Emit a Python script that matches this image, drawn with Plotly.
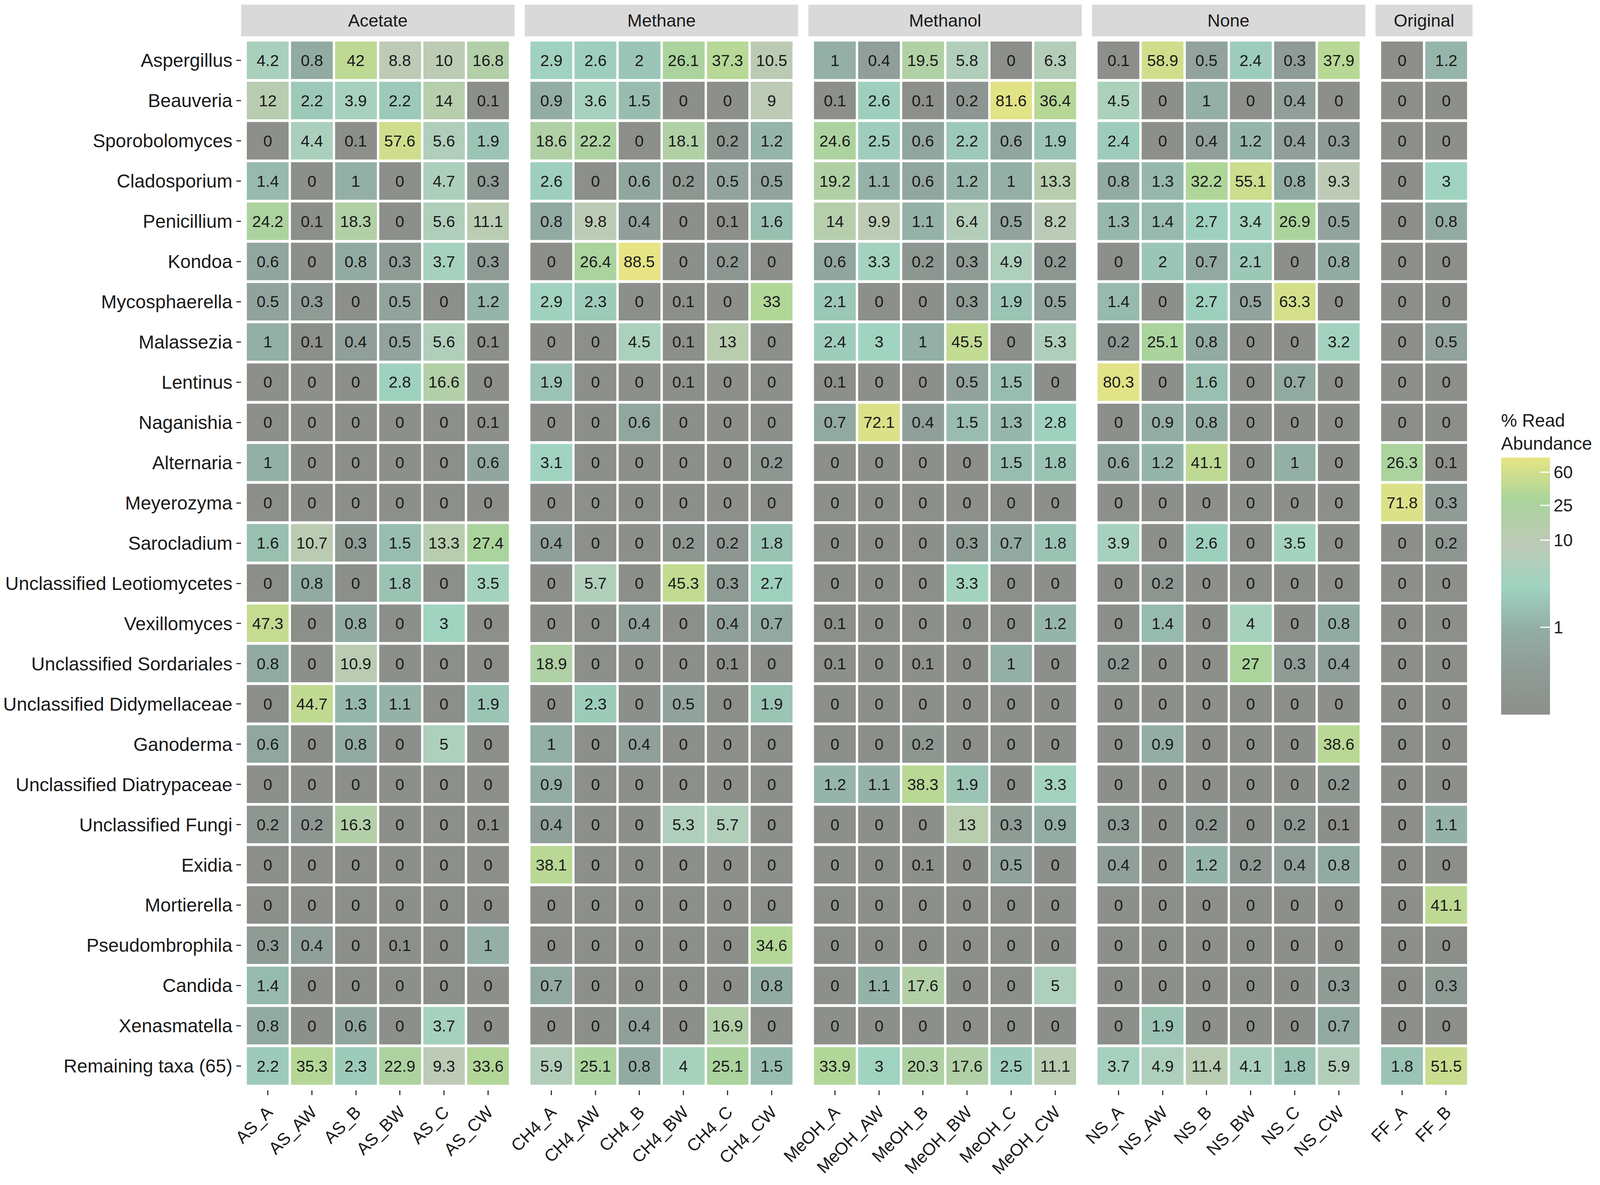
import math
import plotly.graph_objects as go

# ---------------- data ----------------
taxa = [
    "Aspergillus", "Beauveria", "Sporobolomyces", "Cladosporium", "Penicillium",
    "Kondoa", "Mycosphaerella", "Malassezia", "Lentinus", "Naganishia",
    "Alternaria", "Meyerozyma", "Sarocladium", "Unclassified Leotiomycetes",
    "Vexillomyces", "Unclassified Sordariales", "Unclassified Didymellaceae",
    "Ganoderma", "Unclassified Diatrypaceae", "Unclassified Fungi", "Exidia",
    "Mortierella", "Pseudombrophila", "Candida", "Xenasmatella",
    "Remaining taxa (65)",
]

groups = ["Acetate", "Methane", "Methanol", "None", "Original"]

acetate_samples = ["AS_A", "AS_AW", "AS_B", "AS_BW", "AS_C", "AS_CW"]
methane_samples = ["CH4_A", "CH4_AW", "CH4_B", "CH4_BW", "CH4_C", "CH4_CW"]
methanol_samples = ["MeOH_A", "MeOH_AW", "MeOH_B", "MeOH_BW", "MeOH_C", "MeOH_CW"]
none_samples = ["NS_A", "NS_AW", "NS_B", "NS_BW", "NS_C", "NS_CW"]
original_samples = ["FF_A", "FF_B"]

acetate = [
    [4.2, 0.8, 42, 8.8, 10, 16.8],
    [12, 2.2, 3.9, 2.2, 14, 0.1],
    [0, 4.4, 0.1, 57.6, 5.6, 1.9],
    [1.4, 0, 1, 0, 4.7, 0.3],
    [24.2, 0.1, 18.3, 0, 5.6, 11.1],
    [0.6, 0, 0.8, 0.3, 3.7, 0.3],
    [0.5, 0.3, 0, 0.5, 0, 1.2],
    [1, 0.1, 0.4, 0.5, 5.6, 0.1],
    [0, 0, 0, 2.8, 16.6, 0],
    [0, 0, 0, 0, 0, 0.1],
    [1, 0, 0, 0, 0, 0.6],
    [0, 0, 0, 0, 0, 0],
    [1.6, 10.7, 0.3, 1.5, 13.3, 27.4],
    [0, 0.8, 0, 1.8, 0, 3.5],
    [47.3, 0, 0.8, 0, 3, 0],
    [0.8, 0, 10.9, 0, 0, 0],
    [0, 44.7, 1.3, 1.1, 0, 1.9],
    [0.6, 0, 0.8, 0, 5, 0],
    [0, 0, 0, 0, 0, 0],
    [0.2, 0.2, 16.3, 0, 0, 0.1],
    [0, 0, 0, 0, 0, 0],
    [0, 0, 0, 0, 0, 0],
    [0.3, 0.4, 0, 0.1, 0, 1],
    [1.4, 0, 0, 0, 0, 0],
    [0.8, 0, 0.6, 0, 3.7, 0],
    [2.2, 35.3, 2.3, 22.9, 9.3, 33.6],
]

methane = [
    [2.9, 2.6, 2, 26.1, 37.3, 10.5],
    [0.9, 3.6, 1.5, 0, 0, 9],
    [18.6, 22.2, 0, 18.1, 0.2, 1.2],
    [2.6, 0, 0.6, 0.2, 0.5, 0.5],
    [0.8, 9.8, 0.4, 0, 0.1, 1.6],
    [0, 26.4, 88.5, 0, 0.2, 0],
    [2.9, 2.3, 0, 0.1, 0, 33],
    [0, 0, 4.5, 0.1, 13, 0],
    [1.9, 0, 0, 0.1, 0, 0],
    [0, 0, 0.6, 0, 0, 0],
    [3.1, 0, 0, 0, 0, 0.2],
    [0, 0, 0, 0, 0, 0],
    [0.4, 0, 0, 0.2, 0.2, 1.8],
    [0, 5.7, 0, 45.3, 0.3, 2.7],
    [0, 0, 0.4, 0, 0.4, 0.7],
    [18.9, 0, 0, 0, 0.1, 0],
    [0, 2.3, 0, 0.5, 0, 1.9],
    [1, 0, 0.4, 0, 0, 0],
    [0.9, 0, 0, 0, 0, 0],
    [0.4, 0, 0, 5.3, 5.7, 0],
    [38.1, 0, 0, 0, 0, 0],
    [0, 0, 0, 0, 0, 0],
    [0, 0, 0, 0, 0, 34.6],
    [0.7, 0, 0, 0, 0, 0.8],
    [0, 0, 0.4, 0, 16.9, 0],
    [5.9, 25.1, 0.8, 4, 25.1, 1.5],
]

methanol = [
    [1, 0.4, 19.5, 5.8, 0, 6.3],
    [0.1, 2.6, 0.1, 0.2, 81.6, 36.4],
    [24.6, 2.5, 0.6, 2.2, 0.6, 1.9],
    [19.2, 1.1, 0.6, 1.2, 1, 13.3],
    [14, 9.9, 1.1, 6.4, 0.5, 8.2],
    [0.6, 3.3, 0.2, 0.3, 4.9, 0.2],
    [2.1, 0, 0, 0.3, 1.9, 0.5],
    [2.4, 3, 1, 45.5, 0, 5.3],
    [0.1, 0, 0, 0.5, 1.5, 0],
    [0.7, 72.1, 0.4, 1.5, 1.3, 2.8],
    [0, 0, 0, 0, 1.5, 1.8],
    [0, 0, 0, 0, 0, 0],
    [0, 0, 0, 0.3, 0.7, 1.8],
    [0, 0, 0, 3.3, 0, 0],
    [0.1, 0, 0, 0, 0, 1.2],
    [0.1, 0, 0.1, 0, 1, 0],
    [0, 0, 0, 0, 0, 0],
    [0, 0, 0.2, 0, 0, 0],
    [1.2, 1.1, 38.3, 1.9, 0, 3.3],
    [0, 0, 0, 13, 0.3, 0.9],
    [0, 0, 0.1, 0, 0.5, 0],
    [0, 0, 0, 0, 0, 0],
    [0, 0, 0, 0, 0, 0],
    [0, 1.1, 17.6, 0, 0, 5],
    [0, 0, 0, 0, 0, 0],
    [33.9, 3, 20.3, 17.6, 2.5, 11.1],
]

none_ = [
    [0.1, 58.9, 0.5, 2.4, 0.3, 37.9],
    [4.5, 0, 1, 0, 0.4, 0],
    [2.4, 0, 0.4, 1.2, 0.4, 0.3],
    [0.8, 1.3, 32.2, 55.1, 0.8, 9.3],
    [1.3, 1.4, 2.7, 3.4, 26.9, 0.5],
    [0, 2, 0.7, 2.1, 0, 0.8],
    [1.4, 0, 2.7, 0.5, 63.3, 0],
    [0.2, 25.1, 0.8, 0, 0, 3.2],
    [80.3, 0, 1.6, 0, 0.7, 0],
    [0, 0.9, 0.8, 0, 0, 0],
    [0.6, 1.2, 41.1, 0, 1, 0],
    [0, 0, 0, 0, 0, 0],
    [3.9, 0, 2.6, 0, 3.5, 0],
    [0, 0.2, 0, 0, 0, 0],
    [0, 1.4, 0, 4, 0, 0.8],
    [0.2, 0, 0, 27, 0.3, 0.4],
    [0, 0, 0, 0, 0, 0],
    [0, 0.9, 0, 0, 0, 38.6],
    [0, 0, 0, 0, 0, 0.2],
    [0.3, 0, 0.2, 0, 0.2, 0.1],
    [0.4, 0, 1.2, 0.2, 0.4, 0.8],
    [0, 0, 0, 0, 0, 0],
    [0, 0, 0, 0, 0, 0],
    [0, 0, 0, 0, 0, 0.3],
    [0, 1.9, 0, 0, 0, 0.7],
    [3.7, 4.9, 11.4, 4.1, 1.8, 5.9],
]

original = [
    [0, 1.2],
    [0, 0],
    [0, 0],
    [0, 3],
    [0, 0.8],
    [0, 0],
    [0, 0],
    [0, 0.5],
    [0, 0],
    [0, 0],
    [26.3, 0.1],
    [71.8, 0.3],
    [0, 0.2],
    [0, 0],
    [0, 0],
    [0, 0],
    [0, 0],
    [0, 0],
    [0, 0],
    [0, 1.1],
    [0, 0],
    [0, 41.1],
    [0, 0],
    [0, 0.3],
    [0, 0],
    [1.8, 51.5],
]

legend_ticks = [1, 10, 25, 60]

# ---------------- styling ----------------
W, H = 4318, 3033
FONT = "Liberation Sans, Arial, Helvetica, sans-serif"
TXT = "#1a1a1a"

colorscale = [
    [0.0, "#8c8f8a"],
    [1 / 6, "#8f9b95"],
    [2 / 6, "#93aea5"],
    [3 / 6, "#a0d3c0"],
    [4 / 6, "#bdcab6"],
    [5 / 6, "#a9d49b"],
    [1.0, "#e6e484"],
]

panel_data = [acetate, methane, methanol, none_, original]
panel_samples = [acetate_samples, methane_samples, methanol_samples,
                 none_samples, original_samples]

all_vals = [v for block in panel_data for row in block for v in row]
vmin = min(v for v in all_vals if v > 0)
vmax = max(all_vals)
cmin, cmax = math.log10(vmin), math.log10(vmax)


def to_z(v):
    return math.log10(v) if v > 0 else cmin


def fmt(v):
    return f"{v:g}"


# layout geometry (fractions of the reference canvas)
left_px, unit_px, gap_px = 651, 119, 27.5
panel_top_px, panel_bot_px = 93, 2793
strip_top_px = 12

fig = go.Figure()
x0 = left_px
n_rows = len(taxa)
for i, (grp, block, samples) in enumerate(zip(groups, panel_data, panel_samples)):
    n = len(samples)
    wpx = (n + 0.2) * unit_px
    dom = [x0 / W, (x0 + wpx) / W]
    x0 += wpx + gap_px
    ax = "" if i == 0 else str(i + 1)
    fig.add_trace(go.Heatmap(
        x=list(range(n)),
        y=list(range(n_rows)),
        z=[[to_z(v) for v in row] for row in block],
        text=[[fmt(v) for v in row] for row in block],
        texttemplate="%{text}",
        textfont=dict(family=FONT, size=41, color=TXT),
        coloraxis="coloraxis",
        xgap=6, ygap=7,
        xaxis="x" + ax, yaxis="y" + ax,
        hoverinfo="skip",
    ))
    fig.update_layout(**{
        "xaxis" + ax: dict(
            domain=dom, range=[-0.6, n - 0.4], anchor="y" + ax,
            tickmode="array", tickvals=list(range(n)), ticktext=samples,
            tickangle=-45, ticks="outside", ticklen=12, tickwidth=3,
            tickcolor="#333333", showgrid=False, zeroline=False,
            showline=False, automargin=False,
            tickfont=dict(family=FONT, size=44, color=TXT),
        ),
        "yaxis" + ax: dict(
            domain=[1 - panel_bot_px / H, 1 - panel_top_px / H],
            range=[n_rows - 0.4, -0.6], anchor="x" + ax,
            tickmode="array", tickvals=list(range(n_rows)), ticktext=taxa,
            showticklabels=(i == 0), ticks="outside" if i == 0 else "",
            ticklen=12, tickwidth=3, tickcolor="#333333",
            showgrid=False, zeroline=False, showline=False, automargin=False,
            tickfont=dict(family=FONT, size=48, color=TXT),
        ),
    })
    # facet strip
    fig.add_shape(type="rect", xref=f"x{ax} domain", yref="paper",
                  x0=0, x1=1, y0=1 - panel_top_px / H, y1=1 - strip_top_px / H,
                  fillcolor="#d9d9d9", line=dict(width=0), layer="below")
    fig.add_annotation(text=grp, xref=f"x{ax} domain", yref="paper",
                       x=0.5, y=1 - (panel_top_px + strip_top_px) / 2 / H,
                       showarrow=False, xanchor="center", yanchor="middle",
                       font=dict(family=FONT, size=45, color=TXT))

fig.update_layout(
    height=H - 3,
    autosize=True,
    margin=dict(l=0, r=0, t=0, b=0),
    paper_bgcolor="white", plot_bgcolor="white",
    font=dict(family=FONT, color=TXT),
    coloraxis=dict(
        colorscale=colorscale, cmin=cmin, cmax=cmax,
        colorbar=dict(
            title=dict(text="% Read<br>Abundance", side="top",
                       font=dict(family=FONT, size=46, color=TXT)),
            x=4051 / W, xanchor="left", xpad=0,
            y=1 - 1831 / H, yanchor="bottom", ypad=0,
            len=775, lenmode="pixels", thickness=125, thicknessmode="pixels",
            outlinewidth=0,
            tickmode="array",
            tickvals=[math.log10(t) for t in legend_ticks],
            ticktext=[str(t) for t in legend_ticks],
            ticks="inside", ticklen=25, tickwidth=3, tickcolor="white",
            tickfont=dict(family=FONT, size=44, color=TXT),
        ),
    ),
)

post = ("document.body.style.margin='0';"
        "document.documentElement.style.overflow='hidden';"
        "var gd=document.getElementById('{plot_id}');"
        "gd.style.width='100vw';"
        "Plotly.Plots.resize(gd);")

fig.write_html("out.html",
               config={"responsive": True, "displayModeBar": False},
               post_script=post)
